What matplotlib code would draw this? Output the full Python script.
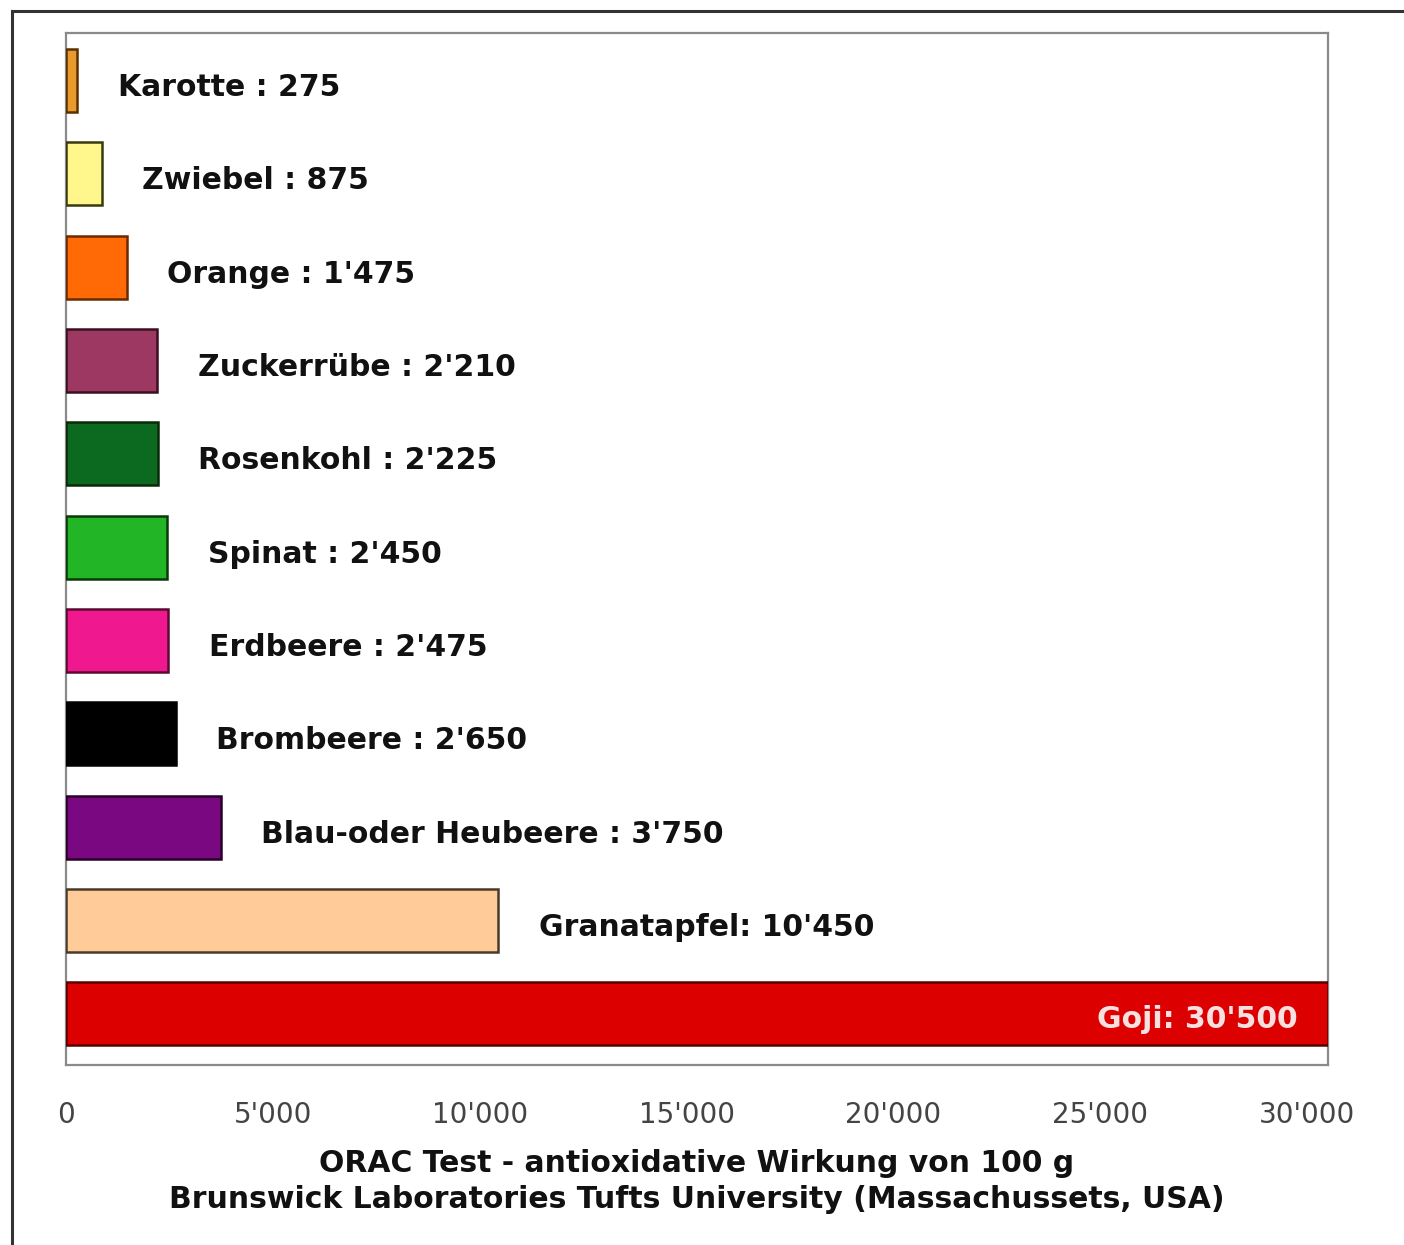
import matplotlib.pyplot as plt
from matplotlib.lines import Line2D
from matplotlib.ticker import FuncFormatter

# Daten: ORAC-Werte pro 100 g
names = ['Karotte', 'Zwiebel', 'Orange', 'Zuckerrübe', 'Rosenkohl', 'Spinat',
         'Erdbeere', 'Brombeere', 'Blau-oder Heubeere', 'Granatapfel', 'Goji']
values = [275, 875, 1475, 2210, 2225, 2450, 2475, 2650, 3750, 10450, 30500]
seps = [' : '] * 9 + [': ', ': ']
colors = ['#E89A2C', '#FFF68C', '#FF6A06', '#9C3862', '#0B6A20', '#22B526',
          '#F0188E', '#000000', '#7A0880', '#FFCB98', '#DD0000']
edges = ['#5a3000', '#3a3a10', '#6a2a00', '#3a1020', '#0a2a0a', '#0a3a0a',
         '#5a0a30', '#000000', '#2a002a', '#4a3a2a', '#5a0000']
xticks = [0, 5000, 10000, 15000, 20000, 25000, 30000]


def fmt(v, pos=None):
    return f'{int(v):,}'.replace(',', "'")


fig = plt.figure(figsize=(14.04, 12.45), dpi=100)
ax = fig.add_axes([66 / 1404, 1 - 1065 / 1245, (1328 - 66) / 1404, (1065 - 33) / 1245])

pos = list(range(len(values)))
ax.barh(pos, values, height=0.675, color=colors, edgecolor=edges, linewidth=1.8, zorder=3)

for i, (n, v, s) in enumerate(zip(names, values, seps)):
    label = n + s + fmt(v)
    if i == len(values) - 1:
        ax.annotate(label, (v, i), xytext=(-22, -4), textcoords='offset points',
                    ha='right', va='center', fontsize=21.5, fontweight='bold',
                    color='#F8E0E0', zorder=4)
    else:
        ax.annotate(label, (v, i), xytext=(29, -5), textcoords='offset points',
                    ha='left', va='center', fontsize=21.5, fontweight='bold',
                    color='#111111', zorder=4)

ax.set_xlim(0, 30500)
ax.set_ylim(10.55, -0.51)
ax.set_yticks([])
ax.set_xticks(xticks)
ax.xaxis.set_major_formatter(FuncFormatter(fmt))
ax.tick_params(axis='x', length=0, pad=26, labelsize=20, labelcolor='#444444')
for sp in ax.spines.values():
    sp.set_color('#8a8a8a')
    sp.set_linewidth(1.6)

ax.set_xlabel('ORAC Test - antioxidative Wirkung von 100 g\n'
              'Brunswick Laboratories Tufts University (Massachussets, USA)',
              fontsize=21.5, fontweight='bold', color='#111111', labelpad=14,
              linespacing=1.32)

# äusserer Rahmen (oben und links sichtbar)
fig.add_artist(Line2D([12 / 1404, 1], [1 - 11 / 1245, 1 - 11 / 1245],
                      transform=fig.transFigure, color='#333333', lw=2.2))
fig.add_artist(Line2D([12 / 1404, 12 / 1404], [0, 1 - 11 / 1245],
                      transform=fig.transFigure, color='#333333', lw=2.2))

fig.savefig('out.png', dpi=100)
